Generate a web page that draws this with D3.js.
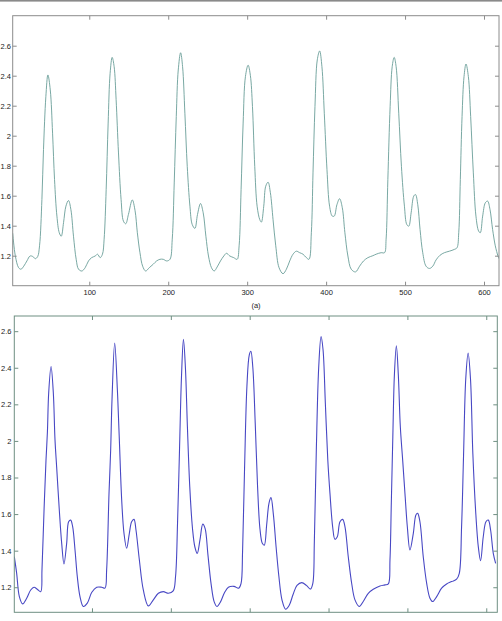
<!DOCTYPE html>
<meta charset="utf-8">
<script src="https://d3js.org/d3.v7.min.js"></script>
<style>
body { margin: 0; background: #fff; }
svg { display: block; }
text { font-family: "Liberation Sans", Arial, sans-serif; fill: #222; }
</style>
<div id="chart"></div>
<script>

// raw signal (panel a) : sample index and amplitude
var rawX = [3,6.3,10.5,13.5,17,21,25,28.7,31.6,34.6,37,40,42,45,47.6,50.6,53.5,56,59,62,64.5,67.4,70.4,73.7,76.7,80,83.4,86.4,90.6,94.8,99,103,107.5,110.4,113.8,116.7,118.8,121.4,123.9,126.4,129,131.5,134,137,140.3,143.3,146.2,149.6,154.5,158,160.9,164.2,167.6,171.4,176,181,185.3,189.5,193.7,198,202.2,205.1,207.6,210.2,212.7,215.7,218.2,221.1,224.1,227.5,230.4,233.8,237.1,240.9,244.3,247.7,251,254.8,258.2,262,266.2,270.4,273.8,278,283,287.3,289.8,292.3,294.9,297.8,301.2,304.1,306.7,309.6,312.6,316,318,321,323.5,326.5,329.4,332.8,336.2,340.4,345.4,349.7,353.9,358.1,362.3,366.5,370.7,375,378.3,381.3,383.4,385.9,388.8,391.8,394.7,397.7,401.1,404.4,407.8,410.3,413.7,417.1,420.5,423.8,427.6,431.8,437.3,442.4,447.4,452.9,459.2,463.4,469.7,474,476,478.2,481.1,483.7,486.2,488.7,492,495.4,499.2,502.2,504.7,507.7,511,513.2,516.1,519,522.4,526.6,530.9,535.1,539.3,544.3,549.8,556.1,562.5,565.8,568,570,572.2,574.7,577.2,580.2,583.1,586.5,589.8,593.2,595.3,598.3,601.7,604.6,607.6,610.9,614.3,617.7,619];
var rawY = [1.35,1.20,1.12,1.11,1.13,1.165,1.198,1.194,1.18,1.194,1.266,1.575,1.907,2.26,2.405,2.305,2.017,1.707,1.464,1.353,1.33,1.42,1.53,1.568,1.508,1.33,1.176,1.11,1.098,1.12,1.165,1.187,1.198,1.21,1.187,1.21,1.31,1.64,2.084,2.416,2.522,2.46,2.24,1.885,1.575,1.43,1.413,1.475,1.572,1.50,1.353,1.22,1.13,1.098,1.12,1.143,1.165,1.176,1.176,1.165,1.176,1.31,1.685,2.128,2.438,2.553,2.46,2.15,1.796,1.53,1.408,1.382,1.475,1.548,1.486,1.33,1.198,1.12,1.098,1.125,1.165,1.198,1.216,1.198,1.187,1.176,1.266,1.64,2.084,2.394,2.47,2.40,2.195,1.796,1.53,1.44,1.424,1.53,1.663,1.69,1.62,1.44,1.266,1.12,1.08,1.11,1.165,1.21,1.23,1.22,1.21,1.187,1.176,1.353,1.752,2.195,2.505,2.565,2.46,2.15,1.774,1.53,1.464,1.464,1.54,1.58,1.52,1.353,1.198,1.11,1.092,1.13,1.165,1.187,1.20,1.21,1.22,1.22,1.31,1.707,2.195,2.46,2.522,2.46,2.15,1.796,1.53,1.408,1.397,1.486,1.597,1.608,1.54,1.375,1.22,1.13,1.115,1.13,1.172,1.203,1.22,1.23,1.242,1.253,1.353,1.707,2.128,2.394,2.478,2.394,2.128,1.752,1.464,1.364,1.353,1.464,1.553,1.564,1.508,1.375,1.266,1.198,1.18];

// filtered signal (lower panel)
var filtX = [1.5,4.5,7.9,12.1,17.2,22.3,26.5,30.7,35,36.6,39.2,41.7,43.5,45.1,48.1,51,53.1,55.2,58.6,61.6,64.5,67.9,70.4,73,75.5,78.5,81.4,84.8,89,94.1,99.6,106,112.3,116.5,118.6,121.6,123.7,125.4,128.8,132.2,134.7,137.7,140.6,144,147.4,150.3,153.3,155.8,160.1,165.1,171.5,177.8,184.2,190.5,196.9,203,206,208.5,211,213.5,216,218.5,221,224,227.5,230.5,233.5,237,240.5,243.5,247,251,255,258.5,263,268,273,280,286,289,291,293.5,296.5,299.5,301.5,304,307,310,313,316,318.5,321.5,324.5,327,330,333.5,337,341,345.5,350,355,360,366,372,377,380,382,384.5,387.5,390.5,393,396,399,401.8,405.2,408.1,411.1,414.5,417.9,420.8,425,429.3,433.5,439,444,450.4,456.7,465.2,471.5,475.8,477.9,479.6,481.5,483.5,486,488.5,491,494,496.9,499.9,503.2,507.5,510.8,513,515.9,520.1,524.4,528.6,532,537.1,543.4,549.7,556.1,562.4,565.8,568.7,571.2,574,577,580,583,586.5,589.9,592.8,596.2,599.6,602.6,605.5,608.9,611.9,614];
var filtY = [1.367,1.276,1.149,1.109,1.14,1.185,1.2,1.189,1.176,1.295,1.62,1.895,2.05,2.262,2.407,2.262,2.007,1.858,1.62,1.44,1.327,1.44,1.558,1.567,1.531,1.404,1.258,1.149,1.095,1.113,1.171,1.2,1.2,1.195,1.295,1.713,1.95,2.225,2.535,2.28,2.007,1.676,1.495,1.413,1.495,1.558,1.571,1.513,1.349,1.185,1.098,1.131,1.167,1.176,1.167,1.18,1.26,1.55,1.95,2.35,2.555,2.40,2.08,1.75,1.52,1.42,1.385,1.46,1.545,1.52,1.38,1.22,1.12,1.095,1.12,1.17,1.2,1.205,1.195,1.22,1.40,1.85,2.30,2.47,2.49,2.40,2.10,1.75,1.52,1.44,1.43,1.54,1.66,1.69,1.60,1.42,1.26,1.13,1.08,1.10,1.16,1.21,1.225,1.21,1.19,1.22,1.45,1.95,2.40,2.57,2.50,2.20,1.90,1.713,1.531,1.462,1.476,1.558,1.571,1.531,1.367,1.222,1.131,1.095,1.122,1.167,1.189,1.207,1.213,1.218,1.349,1.66,2.02,2.36,2.52,2.36,2.08,1.895,1.713,1.531,1.404,1.495,1.595,1.604,1.558,1.367,1.222,1.14,1.122,1.149,1.195,1.218,1.231,1.244,1.276,1.531,1.92,2.34,2.48,2.34,1.93,1.62,1.422,1.345,1.476,1.558,1.567,1.513,1.385,1.331];

var xTicks = [100, 200, 300, 400, 500, 600];
var yTicks = [1.2, 1.4, 1.6, 1.8, 2, 2.2, 2.4, 2.6];

var svg = d3.select("#chart")
  .append("svg")
    .attr("width", 502)
    .attr("height", 621);

// thin gray rule along the top edge
svg.append("rect")
  .attr("x", 0).attr("y", 0)
  .attr("width", 502).attr("height", 1.6)
  .attr("fill", "#8a8a8a");

function panel(id, xs, ys, opt) {
  var x = d3.scaleLinear().domain(opt.xdom).range([opt.left, opt.right]);
  var y = d3.scaleLinear().domain(opt.ydom).range([opt.bottom, opt.top]);
  var w = opt.right - opt.left, h = opt.bottom - opt.top;

  svg.append("clipPath").attr("id", id)
    .append("rect")
      .attr("x", opt.left).attr("y", opt.top)
      .attr("width", w).attr("height", h);

  var pts = xs.map(function(d, i) { return [d, ys[i]]; });
  var line = d3.line()
    .x(function(d) { return x(d[0]); })
    .y(function(d) { return y(d[1]); })
    .curve(d3.curveCatmullRom.alpha(0.5));

  svg.append("path")
    .datum(pts)
    .attr("clip-path", "url(#" + id + ")")
    .attr("fill", "none")
    .attr("stroke", opt.color)
    .attr("stroke-width", opt.lw)
    .attr("d", line);

  function tidy(g) {
    g.select(".domain").remove();
    g.selectAll(".tick line").attr("stroke", opt.frame);
    g.selectAll(".tick text").style("font-size", "7.5px").attr("fill", "#222");
  }

  // left with labels, other sides ticks only (inward ticks)
  svg.append("g")
    .attr("transform", "translate(" + opt.left + ",0)")
    .call(d3.axisLeft(y).tickValues(yTicks).tickSize(-4).tickPadding(opt.ypad).tickFormat(d3.format("")))
    .call(tidy);
  svg.append("g")
    .attr("transform", "translate(" + opt.right + ",0)")
    .call(d3.axisRight(y).tickValues(yTicks).tickSize(-4).tickFormat(""))
    .call(tidy);
  svg.append("g")
    .attr("transform", "translate(0," + opt.top + ")")
    .call(d3.axisTop(x).tickValues(xTicks).tickSize(-4).tickFormat(""))
    .call(tidy);
  svg.append("g")
    .attr("transform", "translate(0," + opt.bottom + ")")
    .call(d3.axisBottom(x).tickValues(xTicks).tickSize(-4).tickPadding(3.5)
      .tickFormat(opt.xlabels ? d3.format("") : ""))
    .call(tidy);

  svg.append("rect")
    .attr("x", opt.left).attr("y", opt.top)
    .attr("width", w).attr("height", h)
    .attr("fill", "none")
    .attr("stroke", opt.frame)
    .attr("stroke-width", 1);
}

panel("clipA", rawX, rawY, {
  xdom: [3, 619], ydom: [1.0, 2.8],
  left: 12.7, right: 499, top: 15.7, bottom: 285.7,
  color: "#6a9e98", lw: 0.9, frame: "#8c8c8c", ypad: 1.7, xlabels: true
});

svg.append("text")
  .attr("x", 256).attr("y", 308)
  .attr("text-anchor", "middle")
  .style("font-size", "7.5px")
  .text("(a)");

panel("clipB", filtX, filtY, {
  xdom: [1.5, 614], ydom: [1.063, 2.683],
  left: 14.3, right: 497.3, top: 316, bottom: 612.3,
  color: "#4848c4", lw: 1.1, frame: "#6f8f82", ypad: 2.8, xlabels: false
});

</script>
